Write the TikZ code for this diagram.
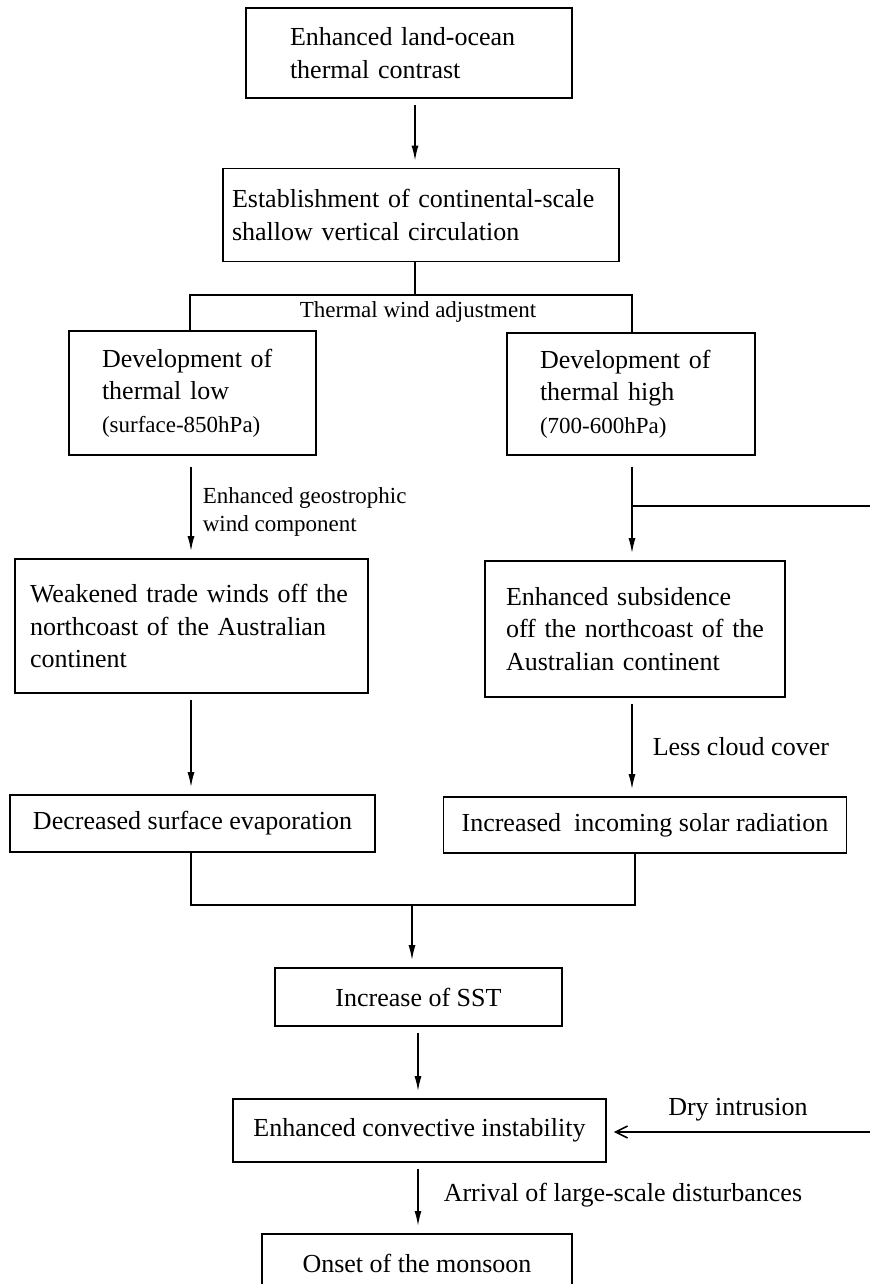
\documentclass[tikz,border=0pt]{standalone}
\usepackage{fontspec}
\setmainfont{Liberation Serif}
\usetikzlibrary{arrows.meta,calc}
\newcommand{\mainsz}{\fontsize{26}{32.5}\selectfont}
\newcommand{\smallsz}{\fontsize{23}{28}\selectfont}
\begin{document}
\begin{tikzpicture}[x=1pt,y=-1pt,line width=1.6pt,
  box/.style={draw,line width=1.6pt,inner ysep=0pt,font=\mainsz},
  arr/.style={-{Latex[length=15pt,width=7pt]},shorten <=6pt,shorten >=7pt},
  dryarr/.style={-{Straight Barb[length=12pt,width=12pt]},shorten >=7pt},
  lbl/.style={font=\mainsz,inner sep=0pt},
  slbl/.style={font=\smallsz,inner sep=0pt,align=left}]
\clip (0,0) rectangle (870,1284);
\fill[white] (0,0) rectangle (870,1284);

% boxes
\node[box,minimum width=326pt,minimum height=90pt,inner xsep=44pt,text width=238pt,align=left] (b1) at (409,53)
  {Enhanced land-ocean\\thermal contrast};
\node[box,minimum width=396pt,minimum height=93pt,inner xsep=9pt,text width=378pt,align=left] (b2) at (421,215)
  {Establishment of continental-scale\\shallow vertical circulation};
\node[box,minimum width=247pt,minimum height=124pt,inner xsep=33pt,text width=181pt,align=left] (low) at (192.5,393)
  {Development of\\thermal low\\{\smallsz (surface-850hPa)}};
\node[box,minimum width=248pt,minimum height=122pt,inner xsep=33pt,text width=182pt,align=left] (high) at (631,394)
  {Development of\\thermal high\\{\smallsz (700-600hPa)}};
\node[box,minimum width=353pt,minimum height=134pt,inner xsep=15pt,text width=323pt,align=left] (weak) at (191.5,626)
  {Weakened trade winds off the\\northcoast of the Australian\\continent};
\node[box,minimum width=300pt,minimum height=136pt,inner xsep=21pt,text width=258pt,align=left] (subs) at (635,629)
  {Enhanced subsidence\\off the northcoast of the\\Australian continent};
\node[box,minimum width=365pt,minimum height=57pt,align=center] (evap) at (192.5,823.5)
  {Decreased surface evaporation};
\node[box,minimum width=403pt,minimum height=56pt,align=center] (solar) at (645,825)
  {Increased\ \ incoming solar radiation};
\node[box,minimum width=287pt,minimum height=58pt,align=center] (sst) at (418.5,997)
  {Increase of SST};
\node[box,minimum width=373pt,minimum height=63pt,align=center] (conv) at (419.5,1130.5)
  {Enhanced convective instability};
\node[box,minimum width=310pt,inner ysep=20pt,anchor=north] (onset) at (417,1233)
  {Onset of the monsoon};

% helper coordinates
\coordinate (c1) at (415,0);
\coordinate (j1) at (415,295);
\coordinate (jl) at (190,295);
\coordinate (jr) at (632,295);
\coordinate (xl) at (191,0);
\coordinate (xr) at (632,0);
\coordinate (xr2) at (635,0);
\coordinate (br) at (632,506);
\coordinate (redge) at (870,506);
\coordinate (jb) at (412,905);
\coordinate (c3) at (418,0);
\coordinate (dry) at (870,1132);

% connectors
\draw[arr] (b1.south -| c1) -- (b2.north -| c1);
\draw (b2.south -| j1) -- (j1);
\draw (low.north -| jl) -- (jl) -- (jr) -- (high.north -| jr);
\node[slbl] (twa) at (418,312) {Thermal wind adjustment};

\draw[arr,shorten <=11pt] (low.south -| xl) -- (weak.north -| xl);
\node[slbl,anchor=west] (geo) at (202,512) {Enhanced geostrophic\\wind component};
\draw[arr,shorten <=11pt] (high.south -| xr) -- (subs.north -| xr);
\draw (br) -- (redge);

\draw[arr] (weak.south -| xl) -- (evap.north -| xl);
\draw[arr] (subs.south -| xr) -- (solar.north -| xr);
\node[lbl,anchor=west] (lcc) at (652,747) {Less cloud cover};

\draw (evap.south -| xl) -- (xl |- jb) -- (xr2 |- jb) -- (solar.south -| xr2);
\draw[arr,shorten <=0pt] (jb) -- (sst.north -| jb);
\draw[arr] (sst.south -| c3) -- (conv.north -| c3);
\draw[dryarr] (dry) -- (conv.east |- dry);
\node[lbl] (dryl) at (738,1110) {Dry intrusion};
\draw[arr] (conv.south -| c3) -- (onset.north -| c3);
\node[lbl,anchor=west] (arrl) at (443,1195) {Arrival of large-scale disturbances};
\end{tikzpicture}
\end{document}
